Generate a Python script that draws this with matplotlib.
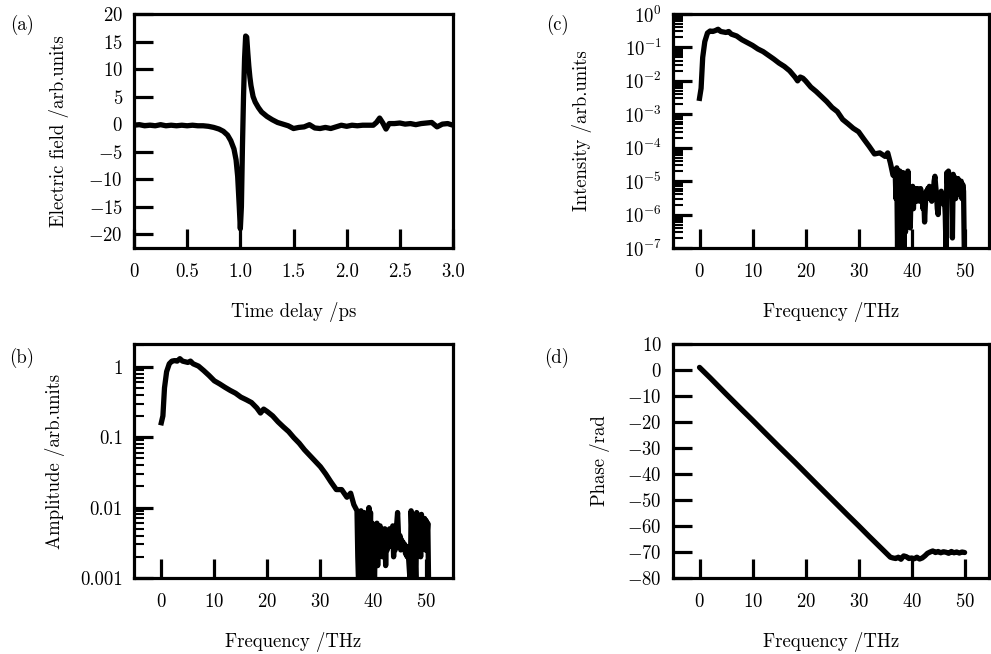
import numpy as np
import matplotlib
matplotlib.use("Agg")
import matplotlib.pyplot as plt
from matplotlib import ticker

plt.rcParams['font.family'] = ['cmr10', 'DejaVu Serif']
plt.rcParams['mathtext.fontset'] = 'cm'
plt.rcParams['axes.formatter.use_mathtext'] = True

# (a) time-domain field
t_ps = [0, 0.05, 0.1, 0.15, 0.2, 0.25, 0.3, 0.35, 0.4, 0.45, 0.5, 0.55, 0.6, 0.65,
        0.7, 0.75, 0.8, 0.84, 0.88, 0.91, 0.94, 0.96, 0.975, 0.99, 1.0, 1.01, 1.02,
        1.03, 1.04, 1.05, 1.06, 1.07, 1.08, 1.09, 1.1, 1.12, 1.14, 1.17, 1.2, 1.25,
        1.3, 1.35, 1.4, 1.45, 1.5, 1.55, 1.6, 1.65, 1.7, 1.75, 1.8, 1.85, 1.9, 1.95,
        2.0, 2.05, 2.1, 2.15, 2.2, 2.25, 2.28, 2.31, 2.34, 2.37, 2.4, 2.45, 2.5,
        2.55, 2.6, 2.65, 2.7, 2.75, 2.8, 2.85, 2.9, 2.95, 3.0]
e_field = [-0.2, -0.1, -0.3, -0.2, -0.3, -0.1, -0.3, -0.2, -0.3, -0.2, -0.3, -0.2,
           -0.3, -0.3, -0.4, -0.6, -0.9, -1.3, -2.0, -3.0, -4.5, -6.5, -9.5, -15,
           -19, -15, -4, 5, 12, 16, 15.8, 13, 10.5, 8.5, 7, 5, 4, 3, 2.2, 1.4, 0.8,
           0.3, 0, -0.3, -0.8, -0.6, -0.5, -0.1, -0.7, -0.8, -0.6, -0.8, -0.5, -0.2,
           -0.4, -0.2, -0.3, -0.2, -0.2, -0.2, 0.3, 1.1, 0.2, -0.9, 0.1, 0.1, 0.2,
           0.0, 0.1, -0.1, 0.1, 0.2, 0.3, -0.5, 0.0, 0.1, -0.2]

# (b) amplitude, smooth part
amp_f = [0, 0.3, 0.6, 1.0, 1.5, 2, 2.5, 3, 3.5, 4, 5, 5.5, 6, 7, 8, 9, 10, 11, 12,
         13, 14, 15, 16, 17, 18, 18.7, 19.3, 20, 21, 22, 23, 24, 25, 26, 27, 28, 29,
         30, 31, 32, 33, 34, 35, 35.7, 36.3]
amp_v = [0.16, 0.2, 0.5, 0.85, 1.1, 1.2, 1.22, 1.2, 1.3, 1.2, 1.15, 1.2, 1.1, 1.02,
         0.88, 0.75, 0.63, 0.57, 0.51, 0.46, 0.42, 0.37, 0.34, 0.31, 0.26, 0.22,
         0.25, 0.23, 0.2, 0.165, 0.14, 0.12, 0.098, 0.082, 0.066, 0.055, 0.046,
         0.038, 0.03, 0.023, 0.018, 0.018, 0.014, 0.016, 0.011]

# (c) intensity, smooth part
int_f = [0, 0.3, 0.6, 1.0, 1.5, 2, 2.5, 3, 3.5, 4, 5, 5.5, 6, 7, 8, 9, 10, 11, 12,
         13, 14, 15, 16, 17, 18, 18.5, 19, 19.5, 20, 21, 22, 23, 24, 25, 26, 27,
         28, 29, 30, 31, 32, 33, 34, 35, 35.5, 36, 36.5]
int_v = [0.003, 0.006, 0.05, 0.15, 0.27, 0.31, 0.3, 0.32, 0.35, 0.3, 0.28, 0.3,
         0.25, 0.22, 0.17, 0.14, 0.115, 0.09, 0.075, 0.058, 0.045, 0.034, 0.027,
         0.02, 0.013, 0.01, 0.013, 0.012, 0.01, 0.0065, 0.0048, 0.0034, 0.0024,
         0.0016, 0.0012, 0.0007, 0.00052, 0.00038, 0.0003, 0.00018, 0.00011,
         6.5e-5, 7e-5, 5.5e-5, 7e-5, 3.5e-5, 1.5e-5]

# noisy high-frequency tail (shared frequency samples)
noise_f = [36.9, 37.05, 37.2, 37.35, 37.5, 37.65, 37.8, 37.95, 38.1, 38.25, 38.4,
           38.55, 38.7, 38.85, 39.0, 39.15, 39.3, 39.45, 39.6, 39.75, 39.9, 40.05,
           40.2, 40.35, 40.5, 40.65, 40.8, 40.95,
           41.1, 41.25, 41.4, 41.55, 41.7, 41.85, 42.0, 42.15, 42.3, 42.45, 42.6,
           42.75, 42.9, 43.05, 43.2, 43.35, 43.5, 43.65, 43.8, 43.95, 44.1, 44.25,
           44.4, 44.55, 44.7, 44.85, 45.0, 45.15, 45.3, 45.45, 45.6, 45.75, 45.9,
           46.05, 46.2, 46.35, 46.5, 46.65, 46.8, 46.95,
           47.1, 47.25, 47.4, 47.55, 47.7, 47.85, 48.0, 48.15, 48.3, 48.45, 48.6,
           48.75, 48.9, 49.05, 49.2, 49.35, 49.5, 49.65, 49.8, 49.95, 50.1, 50.25,
           50.4]
amp_noise = [0.009, 0.002, 0.0008, 0.007, 0.0015, 0.009, 0.0008, 0.006, 0.002,
             0.0085, 0.0008, 0.005, 0.0012, 0.007, 0.0008, 0.01, 0.003, 0.0085,
             0.0009, 0.006, 0.0015, 0.005, 0.0008, 0.0055, 0.002, 0.006, 0.0015,
             0.005,
             0.0025, 0.0055, 0.0035, 0.005, 0.002, 0.0045, 0.003, 0.005, 0.0015,
             0.004, 0.0025, 0.0045, 0.0035, 0.005, 0.0028, 0.0045, 0.003, 0.0055,
             0.002, 0.004, 0.0025, 0.0045, 0.006, 0.0085, 0.0045, 0.003, 0.004,
             0.0025, 0.0035, 0.0028, 0.0032, 0.0025, 0.003, 0.0022, 0.0028, 0.002,
             0.0025, 0.0018, 0.0012, 0.0008,
             0.009, 0.0045, 0.008, 0.003, 0.007, 0.002, 0.0008, 0.0085, 0.004,
             0.007, 0.0035, 0.006, 0.002, 0.008, 0.0035, 0.0065, 0.003, 0.007,
             0.0025, 0.0065, 0.004, 0.006, 0.0008]
int_noise = [2e-5, 3e-6, 2.5e-5, 1e-7, 1.5e-5, 5e-7, 2e-5, 8e-8, 1.2e-5, 1e-6,
             1.8e-5, 8e-8, 8e-6, 3e-7, 1.5e-5, 2e-6, 2e-5, 1e-6, 6e-6, 4e-7, 5e-6,
             2e-6, 7e-6, 1.5e-6, 6e-6, 3e-6, 6e-6, 2.5e-6,
             6e-6, 3e-6, 5e-6, 2.5e-6, 6e-6, 3e-6, 4e-6, 1.5e-6, 3e-6, 6e-7, 2e-6,
             5e-6, 3e-6, 6e-6, 4e-6, 7e-6, 3e-6, 5e-6, 2.5e-6, 6e-6, 4e-6, 1e-5,
             1.4e-5, 7e-6, 4e-6, 1.5e-6, 1e-6, 2.5e-6, 4e-6, 3e-6, 5e-6, 2.5e-6,
             4e-6, 2e-6, 3e-6, 1e-6, 8e-8, 1.8e-5, 8e-6, 2e-5,
             6e-6, 1.5e-5, 4e-6, 1.2e-5, 2e-7, 1.6e-5, 5e-6, 1.3e-5, 3e-6, 1e-5,
             6e-6, 1.2e-5, 4e-6, 9e-6, 5e-6, 1e-5, 3e-6, 8e-6, 5e-6, 6e-8, np.nan,
             np.nan, np.nan]

# (d) phase
phase_f = [0, 2, 5, 8, 10, 12, 15, 18, 20, 22, 25, 28, 30, 32, 34, 36, 36.5, 37,
           37.5, 38, 38.5, 39, 39.5, 40, 40.5, 41, 41.5, 42, 42.5, 43, 43.5, 44,
           44.5, 45, 45.5, 46, 46.5, 47, 47.5, 48, 48.5, 49, 49.5, 50]
phase_v = [1, -3, -9.2, -15.3, -19.3, -23.4, -29.5, -35.5, -39.6, -43.7, -49.8,
           -55.9, -59.9, -64, -68, -72, -72.3, -72.5, -72, -72.8, -71.5, -71.8,
           -72.5, -72.3, -72.6, -72, -72.7, -72.3, -71.5, -70.5, -70, -69.6, -70.2,
           -69.8, -70.3, -69.9, -70.1, -70.5, -69.8, -70.3, -70, -70.4, -70, -70.2]

W, H = 991, 654
fig = plt.figure(figsize=(W / 100, H / 100), dpi=100)


def box(x0, y0, x1, y1):
    return [x0 / W, 1 - y1 / H, (x1 - x0) / W, (y1 - y0) / H]


FS = 13.5
LW = 3.8


def style(ax):
    for s in ax.spines.values():
        s.set_linewidth(2.3)
    ax.tick_params(which='major', direction='in', length=13.5, width=2.3,
                   labelsize=FS, top=False, right=False)
    ax.tick_params(which='minor', direction='in', length=7, width=1.5,
                   top=False, right=False)
    ax.tick_params(axis='x', which='major', pad=11)
    ax.tick_params(axis='y', which='major', pad=8)


ax_a = fig.add_axes(box(134, 14, 453, 248))
ax_b = fig.add_axes(box(134, 344, 453, 578))
ax_c = fig.add_axes(box(673, 14, 989, 248))
ax_d = fig.add_axes(box(673, 344, 989, 578))

# (a)
ax_a.plot(t_ps, e_field, color='black', lw=LW, solid_joinstyle='round')
ax_a.set_xlim(0, 3)
ax_a.set_ylim(-22.5, 20)
ax_a.set_xticks([0, 0.5, 1.0, 1.5, 2.0, 2.5, 3.0])
ax_a.set_xticklabels(['0', '0.5', '1.0', '1.5', '2.0', '2.5', '3.0'])
ax_a.set_yticks(np.arange(-20, 21, 5))
style(ax_a)
ax_a.set_xlabel('Time delay /ps', fontsize=FS, labelpad=15)
ax_a.set_ylabel('Electric field /arb.units', fontsize=FS)
ax_a.yaxis.set_label_coords(-0.205, 0.5)

# (b)
ax_b.plot(amp_f + noise_f, amp_v + amp_noise, color='black', lw=LW,
          solid_joinstyle='round')
ax_b.set_yscale('log')
ax_b.set_xlim(-5.15, 55)
ax_b.set_ylim(1e-3, 2.1)
ax_b.set_xticks([0, 10, 20, 30, 40, 50])
ax_b.yaxis.set_major_locator(ticker.FixedLocator([1e-3, 1e-2, 1e-1, 1]))
ax_b.yaxis.set_major_formatter(ticker.FixedFormatter(['0.001', '0.01', '0.1', '1']))
ax_b.yaxis.set_minor_locator(ticker.LogLocator(base=10, subs=np.arange(2, 10), numticks=20))
ax_b.yaxis.set_minor_formatter(ticker.NullFormatter())
style(ax_b)
ax_b.set_xlabel('Frequency /THz', fontsize=FS, labelpad=15)
ax_b.set_ylabel('Amplitude /arb.units', fontsize=FS)
ax_b.yaxis.set_label_coords(-0.215, 0.5)

# (c)
ax_c.plot(int_f + noise_f, int_v + int_noise, color='black', lw=LW,
          solid_joinstyle='round')
ax_c.set_yscale('log')
ax_c.set_xlim(-5, 54.6)
ax_c.set_ylim(1e-7, 1)
ax_c.set_xticks([0, 10, 20, 30, 40, 50])
ax_c.yaxis.set_major_locator(ticker.LogLocator(base=10, numticks=20))
ax_c.yaxis.set_major_formatter(ticker.LogFormatterSciNotation())
ax_c.yaxis.set_minor_locator(ticker.LogLocator(base=10, subs=np.arange(2, 10), numticks=20))
ax_c.yaxis.set_minor_formatter(ticker.NullFormatter())
style(ax_c)
ax_c.set_xlabel('Frequency /THz', fontsize=FS, labelpad=15)
ax_c.set_ylabel('Intensity /arb.units', fontsize=FS)
ax_c.yaxis.set_label_coords(-0.255, 0.5)

# (d)
ax_d.plot(phase_f, phase_v, color='black', lw=LW, solid_joinstyle='round',
          solid_capstyle='round')
ax_d.set_xlim(-5, 54.6)
ax_d.set_ylim(-80, 10)
ax_d.set_xticks([0, 10, 20, 30, 40, 50])
ax_d.set_yticks(np.arange(-80, 11, 10))
style(ax_d)
ax_d.set_xlabel('Frequency /THz', fontsize=FS, labelpad=15)
ax_d.set_ylabel('Phase /rad', fontsize=FS)
ax_d.yaxis.set_label_coords(-0.2, 0.5)

for lab, x, y in [('(a)', 22, 25), ('(b)', 22, 358), ('(c)', 557, 25), ('(d)', 557, 358)]:
    fig.text(x / W, 1 - y / H, lab, fontsize=FS, ha='center', va='center')

fig.savefig('out.png', dpi=100)
